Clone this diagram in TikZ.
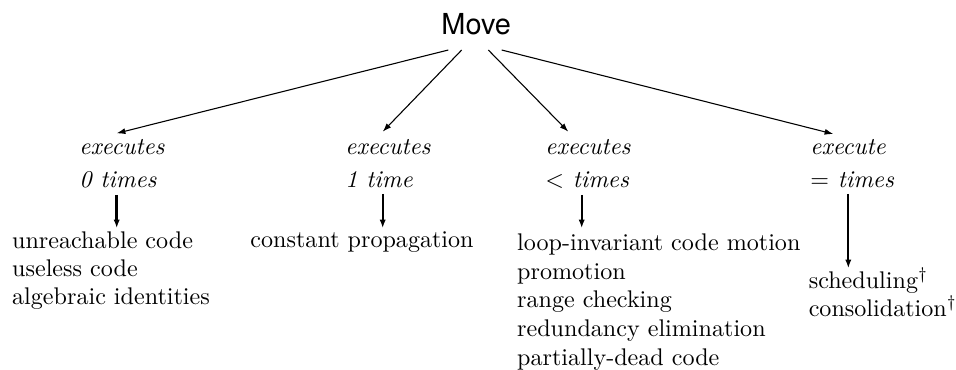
\documentclass[tikz,border=0pt]{standalone}
\usepackage{fontspec}
\newfontfamily\headfont{TeX Gyre Heros}
\usetikzlibrary{arrows.meta}
\begin{document}
\begin{tikzpicture}[x=0.415pt,y=-0.415pt,
  txt/.style={inner sep=0pt,anchor=base west},
  lbl/.style={txt,font=\itshape},
  branch/.style={line width=0.45pt,-{Latex[length=3.6pt,width=2.5pt]}},
  down/.style={line width=0.8pt,-{Latex[length=3.6pt,width=2.6pt]}}]
\useasboundingbox (0,0) rectangle (956,370);

% root
\node[inner sep=0pt,anchor=base,font=\headfont\fontsize{12}{14}\selectfont] (move) at (476.2,35) {Move};

% category labels
\node[lbl] (c0a) at (79,155) {executes};
\node[lbl] (c0b) at (79,187.3) {0 times};
\node[lbl] (c1a) at (345,155) {executes};
\node[lbl] (c1b) at (345,187.3) {1 time};
\node[lbl] (c2a) at (545,155) {executes};
\node[lbl] (c2b) at (545,187.3) {$<$ times};
\node[lbl] (c3a) at (810,155) {execute};
\node[lbl] (c3b) at (810,187.3) {$=$ times};

% optimisations in each category
\node[txt] (a1) at (11.7,249) {unreachable code};
\node[txt] (a2) at (11.7,277) {useless code};
\node[txt] (a3) at (11.7,305) {algebraic identities};
\node[txt] (b1) at (250,248) {constant propagation};
\node[txt] (d1) at (516.7,250.7) {loop-invariant code motion};
\node[txt] (d2) at (516.7,279.3) {promotion};
\node[txt] (d3) at (516.7,308) {range checking};
\node[txt] (d4) at (516.7,337) {redundancy elimination};
\node[txt] (d5) at (516.7,365.5) {partially-dead code};
\node[txt] (e1) at (808.3,288.3) {scheduling$^\dagger$};
\node[txt] (e2) at (808.3,316.7) {consolidation$^\dagger$};

% connector ends
\coordinate (m0) at (448.3,50);
\coordinate (m1) at (461.7,50);
\coordinate (m2) at (488.3,50);
\coordinate (m3) at (501.7,50);
\coordinate (t0) at (116.7,133.3);
\coordinate (t1) at (382.7,131.7);
\coordinate (t2) at (568.3,131.7);
\coordinate (t3) at (833.3,134);
\coordinate (v0) at (116.7,195);
\coordinate (w0) at (116.7,228.3);
\coordinate (v1) at (382.7,194);
\coordinate (w1) at (382.7,228.3);
\coordinate (v2) at (581.7,195);
\coordinate (w2) at (581.7,228.3);
\coordinate (v3) at (848.3,194);
\coordinate (w3) at (848.3,268.3);

\draw[branch] (m0) -- (t0);
\draw[branch] (m1) -- (t1);
\draw[branch] (m2) -- (t2);
\draw[branch] (m3) -- (t3);

\draw[down,line width=1.2pt] (v0) -- (w0);
\draw[down] (v1) -- (w1);
\draw[down] (v2) -- (w2);
\draw[down] (v3) -- (w3);
\end{tikzpicture}
\end{document}
